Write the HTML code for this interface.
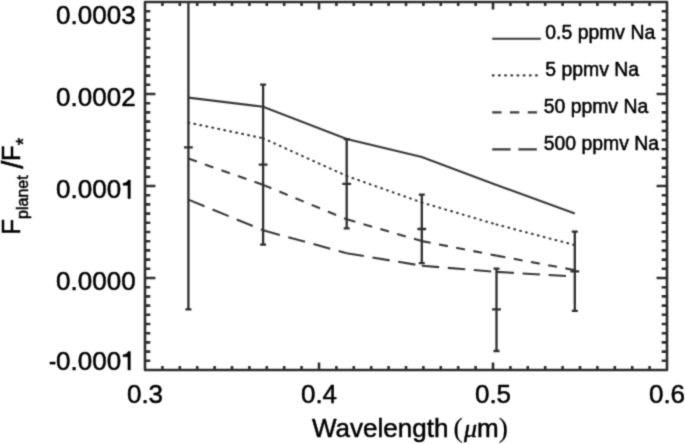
<!DOCTYPE html>
<html><head><meta charset="utf-8"><style>
html,body{margin:0;padding:0;background:#fff;width:685px;height:444px;overflow:hidden}
svg{display:block;font-family:"Liberation Sans",sans-serif}
</style></head><body>
<svg width="685" height="444" viewBox="0 0 685 444">
<defs><filter id="bl" x="0" y="0" width="685" height="444" filterUnits="userSpaceOnUse" color-interpolation-filters="sRGB"><feConvolveMatrix order="5" kernelMatrix="0.00001 0.00042 0.00170 0.00042 0.00001 0.00042 0.02740 0.10988 0.02740 0.00042 0.00170 0.10988 0.44065 0.10988 0.00170 0.00042 0.02740 0.10988 0.02740 0.00042 0.00001 0.00042 0.00170 0.00042 0.00001" edgeMode="none"/></filter></defs>
<g filter="url(#bl)">
<rect width="685" height="444" fill="#fff"/>
<g>
<rect x="145.0" y="2.0" width="522.00" height="368.00" fill="none" stroke="#2e2e2e" stroke-width="2.6" stroke-linejoin="round"/>
<path d="M162.40 370.0v-3.9M162.40 2.0v3.9M179.80 370.0v-3.9M179.80 2.0v3.9M197.20 370.0v-3.9M197.20 2.0v3.9M214.60 370.0v-3.9M214.60 2.0v3.9M232.00 370.0v-3.9M232.00 2.0v3.9M249.40 370.0v-3.9M249.40 2.0v3.9M266.80 370.0v-3.9M266.80 2.0v3.9M284.20 370.0v-3.9M284.20 2.0v3.9M301.60 370.0v-3.9M301.60 2.0v3.9M319.00 370.0v-7.6M319.00 2.0v7.6M336.40 370.0v-3.9M336.40 2.0v3.9M353.80 370.0v-3.9M353.80 2.0v3.9M371.20 370.0v-3.9M371.20 2.0v3.9M388.60 370.0v-3.9M388.60 2.0v3.9M406.00 370.0v-3.9M406.00 2.0v3.9M423.40 370.0v-3.9M423.40 2.0v3.9M440.80 370.0v-3.9M440.80 2.0v3.9M458.20 370.0v-3.9M458.20 2.0v3.9M475.60 370.0v-3.9M475.60 2.0v3.9M493.00 370.0v-7.6M493.00 2.0v7.6M510.40 370.0v-3.9M510.40 2.0v3.9M527.80 370.0v-3.9M527.80 2.0v3.9M545.20 370.0v-3.9M545.20 2.0v3.9M562.60 370.0v-3.9M562.60 2.0v3.9M580.00 370.0v-3.9M580.00 2.0v3.9M597.40 370.0v-3.9M597.40 2.0v3.9M614.80 370.0v-3.9M614.80 2.0v3.9M632.20 370.0v-3.9M632.20 2.0v3.9M649.60 370.0v-3.9M649.60 2.0v3.9M145.0 360.80h5.3M667.0 360.80h-5.3M145.0 351.60h5.3M667.0 351.60h-5.3M145.0 342.40h5.3M667.0 342.40h-5.3M145.0 333.20h5.3M667.0 333.20h-5.3M145.0 324.00h5.3M667.0 324.00h-5.3M145.0 314.80h5.3M667.0 314.80h-5.3M145.0 305.60h5.3M667.0 305.60h-5.3M145.0 296.40h5.3M667.0 296.40h-5.3M145.0 287.20h5.3M667.0 287.20h-5.3M145.0 278.00h10.4M667.0 278.00h-10.4M145.0 268.80h5.3M667.0 268.80h-5.3M145.0 259.60h5.3M667.0 259.60h-5.3M145.0 250.40h5.3M667.0 250.40h-5.3M145.0 241.20h5.3M667.0 241.20h-5.3M145.0 232.00h5.3M667.0 232.00h-5.3M145.0 222.80h5.3M667.0 222.80h-5.3M145.0 213.60h5.3M667.0 213.60h-5.3M145.0 204.40h5.3M667.0 204.40h-5.3M145.0 195.20h5.3M667.0 195.20h-5.3M145.0 186.00h10.4M667.0 186.00h-10.4M145.0 176.80h5.3M667.0 176.80h-5.3M145.0 167.60h5.3M667.0 167.60h-5.3M145.0 158.40h5.3M667.0 158.40h-5.3M145.0 149.20h5.3M667.0 149.20h-5.3M145.0 140.00h5.3M667.0 140.00h-5.3M145.0 130.80h5.3M667.0 130.80h-5.3M145.0 121.60h5.3M667.0 121.60h-5.3M145.0 112.40h5.3M667.0 112.40h-5.3M145.0 103.20h5.3M667.0 103.20h-5.3M145.0 94.00h10.4M667.0 94.00h-10.4M145.0 84.80h5.3M667.0 84.80h-5.3M145.0 75.60h5.3M667.0 75.60h-5.3M145.0 66.40h5.3M667.0 66.40h-5.3M145.0 57.20h5.3M667.0 57.20h-5.3M145.0 48.00h5.3M667.0 48.00h-5.3M145.0 38.80h5.3M667.0 38.80h-5.3M145.0 29.60h5.3M667.0 29.60h-5.3M145.0 20.40h5.3M667.0 20.40h-5.3M145.0 11.20h5.3M667.0 11.20h-5.3" fill="none" stroke="#2e2e2e" stroke-width="2.6"/>
<polyline points="188.4,97.6 263.1,106.7 346.7,139.0 421.8,157.1 496.5,185.0 574.8,213.5" fill="none" stroke="#383838" stroke-width="2.1" />
<g fill="none" stroke="#383838"  stroke-dasharray="0.9 5.2" stroke-linecap="round" stroke-width="2.1"><line x1="188.4" y1="122.6" x2="263.1" y2="138.3"/><line x1="263.1" y1="138.3" x2="346.7" y2="176.0"/><line x1="346.7" y1="176.0" x2="421.8" y2="202.5"/><line x1="421.8" y1="202.5" x2="496.5" y2="224.5"/><line x1="496.5" y1="224.5" x2="574.8" y2="245.1"/></g>
<g fill="none" stroke="#383838" stroke-width="2.1" stroke-dasharray="9.0 8.5"><line x1="188.4" y1="158.6" x2="263.1" y2="184.9"/><line x1="263.1" y1="184.9" x2="346.7" y2="219.3"/><line x1="346.7" y1="219.3" x2="421.8" y2="241.1"/><line x1="421.8" y1="241.1" x2="496.5" y2="255.6"/><line x1="496.5" y1="255.6" x2="574.8" y2="270.1"/></g>
<g fill="none" stroke="#383838" stroke-width="2.1" stroke-dasharray="17.4 8.7"><line x1="188.4" y1="199.6" x2="263.1" y2="230.3"/><line x1="263.1" y1="230.3" x2="346.7" y2="253.2"/><line x1="346.7" y1="253.2" x2="421.8" y2="265.7"/><line x1="421.8" y1="265.7" x2="496.5" y2="271.9"/><line x1="496.5" y1="271.9" x2="574.8" y2="276.5"/></g>
<path d="M188.4 2.0V309.3M185.4 309.3h6.0M184.0 147.3h8.8M263.1 84.7V244.7M260.1 84.7h6.0M260.1 244.7h6.0M258.70000000000005 164.6h8.8M346.7 139.2V228.4M343.7 139.2h6.0M343.7 228.4h6.0M342.3 183.9h8.8M421.8 194.7V263.2M418.8 194.7h6.0M418.8 263.2h6.0M417.40000000000003 229.0h8.8M496.5 268.7V351.0M493.5 268.7h6.0M493.5 351.0h6.0M492.1 309.4h8.8M574.8 231.7V310.9M571.8 231.7h6.0M571.8 310.9h6.0M570.4 271.3h8.8" fill="none" stroke="#2e2e2e" stroke-width="2.3"/>
<line x1="492.2" y1="38.8" x2="540.8" y2="38.8" stroke="#383838" stroke-width="2.1"/>
<line x1="492.75" y1="75.4" x2="537.5" y2="75.4" stroke="#383838" stroke-width="2.1" stroke-linecap="round" stroke-dasharray="0.9 5.28"/>
<line x1="492.2" y1="112.4" x2="537" y2="112.4" stroke="#383838" stroke-width="2.1" stroke-dasharray="9.3 8.5"/>
<line x1="492.2" y1="149.4" x2="537" y2="149.4" stroke="#383838" stroke-width="2.1" stroke-dasharray="18.4 7.8"/>
</g>
<g fill="#000" stroke="#000" stroke-width="0.5">
<text x="135.6" y="23.8" text-anchor="end" font-size="26">0.0003</text>
<text x="135.6" y="106.0" text-anchor="end" font-size="26">0.0002</text>
<text x="121.14" y="198.4" text-anchor="end" font-size="26">0.000</text>
<text x="135.6" y="290.3" text-anchor="end" font-size="26">0.0000</text>
<rect x="49.7" y="361.80" width="5.8" height="2.6" stroke="none"/>
<text x="121.14" y="369.9" text-anchor="end" font-size="26">0.000</text>
<path d="M130.34 198.40V180.00H128.24C127.64 182.00 125.54 183.10 123.04 183.30V185.30H127.94V198.40ZM130.34 369.90V351.50H128.24C127.64 353.50 125.54 354.60 123.04 354.80V356.80H127.94V369.90Z"/>
<text x="145.00" y="403.2" text-anchor="middle" font-size="26">0.3</text>
<text x="319.00" y="403.2" text-anchor="middle" font-size="26">0.4</text>
<text x="493.00" y="403.2" text-anchor="middle" font-size="26">0.5</text>
<text x="667.00" y="403.2" text-anchor="middle" font-size="26">0.6</text>
<text x="312" y="436.9" font-size="26">Wavelength <tspan font-family="Liberation Serif" font-size="27.5" dx="-2.0" stroke-width="0.2">(</tspan><tspan font-family="Liberation Serif" font-style="italic" dx="1.2">μ</tspan>m<tspan font-family="Liberation Serif" font-size="27.5" stroke-width="0.2">)</tspan></text>
<text transform="translate(19.6,234.8) rotate(-90)" font-size="26">F<tspan font-size="16" dy="8.7">planet</tspan><tspan dy="-8.7"> </tspan><tspan font-size="29" dx="-0.7" dy="3.2">/</tspan><tspan dx="-0.4" dy="-3.2">F</tspan><tspan font-size="19.5" dy="10.6">*</tspan></text>
<text x="545.3" y="38.8" font-size="19.4">0.5 ppmv Na</text>
<text x="545.3" y="75.8" font-size="19.4">5 ppmv Na</text>
<text x="543.7" y="112.9" font-size="19.4">50 ppmv Na</text>
<text x="543.7" y="149.9" font-size="19.4">500 ppmv Na</text>
</g>
</g>
</svg>
</body></html>
